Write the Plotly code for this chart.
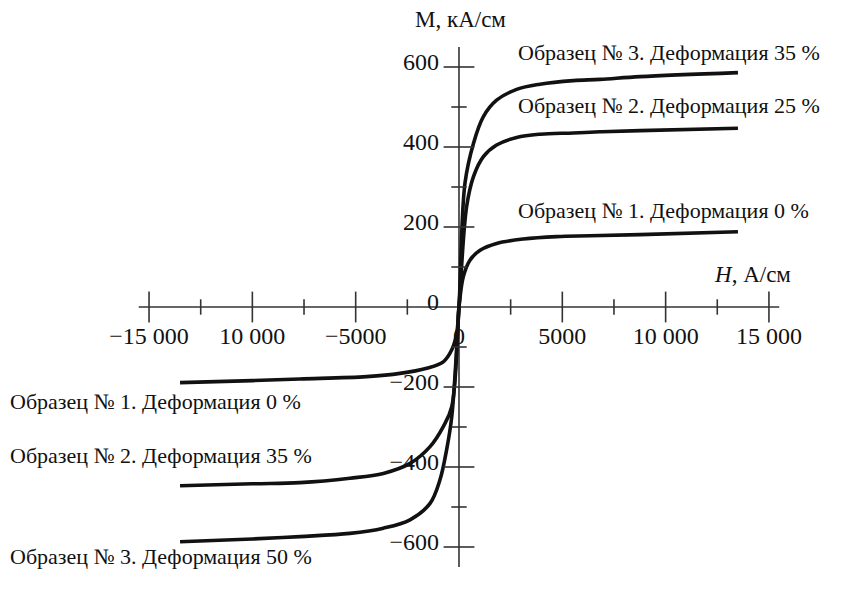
import plotly.graph_objects as go

# Magnetisation curves M(H), kA/cm vs A/cm
h1 = [-13500, -10000, -7700, -4470, -2860, -1560, -760, -350, -110, 0,
      210, 530, 1020, 1820, 3110, 4730, 6340, 8760, 13500]
m1 = [-189, -184, -180, -174, -166, -153, -137, -107, -66, 0,
      76, 117, 142, 159, 170, 176, 178, 181, 188]

h2 = [-13500, -10000, -7700, -5280, -3660, -2370, -1400, -760, -350, 0,
      370, 700, 1180, 1820, 2790, 3920, 5530, 6825, 8760, 13500]
m2 = [-447, -442, -439, -428, -416, -391, -349, -299, -249, 0,
      251, 326, 376, 405, 424, 432, 435, 438, 441, 447]

h3 = [-13500, -10000, -7700, -5280, -3660, -2370, -1400, -920, -600, -350, 0,
      290, 700, 1180, 1820, 2790, 3920, 5530, 6825, 8760, 13500]
m3 = [-587, -580, -574, -566, -553, -532, -491, -432, -357, -274, 0,
      310, 409, 476, 517, 544, 557, 566, 569, 576, 586]

# Axis ticks and labels
x_tick_vals = [-15000, -10000, -5000, 0, 5000, 10000, 15000]
x_tick_text = ["\u221215 000", "10 000", "\u22125000", "0", "5000", "10 000", "15 000"]
x_major = [-15000, -10000, -5000, 5000, 10000, 15000]
x_minor = [-12500, -7500, -2500, 2500, 7500, 12500]

y_tick_vals = [-600, -400, -200, 0, 200, 400, 600]
y_tick_text = ["\u2212600", "\u2212400", "\u2212200", "0", "200", "400", "600"]
y_major = [-600, -400, -200, 200, 400, 600]
y_minor = [-500, -300, -100, 100, 300, 500]

X_RANGE = [-22213, 19068]
Y_RANGE = [-717.5, 767.5]
X_AXIS_SPAN = [-15500, 15500]
Y_AXIS_SPAN = [-650, 650]

W, H = 853, 594
FONT = "Liberation Serif"
INK = "#111111"
AXIS = "#333333"

fig = go.Figure()

for hx, my in [(h1, m1), (h2, m2), (h3, m3)]:
    fig.add_trace(go.Scatter(
        x=hx, y=my, mode="lines",
        line=dict(color=INK, width=3.6, shape="spline", smoothing=1.0),
        hoverinfo="skip",
    ))

# Axis lines crossing at the origin
fig.add_shape(type="line", x0=X_AXIS_SPAN[0], x1=X_AXIS_SPAN[1], y0=0, y1=0,
              line=dict(color=AXIS, width=1.6), layer="below")
fig.add_shape(type="line", x0=0, x1=0, y0=Y_AXIS_SPAN[0], y1=Y_AXIS_SPAN[1],
              line=dict(color=AXIS, width=1.6), layer="below")

# Tick marks crossing the axes
def tick_marks(xs, ys, symbol, size):
    return go.Scatter(
        x=xs, y=ys, mode="markers", hoverinfo="skip",
        marker=dict(symbol=symbol, size=size, color=AXIS,
                    line=dict(color=AXIS, width=1.6)),
    )

fig.add_trace(tick_marks(x_major, [0] * len(x_major), "line-ns", 22))
fig.add_trace(tick_marks(x_minor, [0] * len(x_minor), "line-ns", 11))
fig.add_trace(tick_marks([0] * len(y_major), y_major, "line-ew", 22))
fig.add_trace(tick_marks([0] * len(y_minor), y_minor, "line-ew", 11))

x_pos = (0 - Y_RANGE[0]) / (Y_RANGE[1] - Y_RANGE[0])
y_pos = (0 - X_RANGE[0]) / (X_RANGE[1] - X_RANGE[0])

fig.update_layout(
    width=W, height=H,
    margin=dict(l=0, r=0, t=0, b=0),
    paper_bgcolor="white", plot_bgcolor="white",
    showlegend=False, hovermode=False,
    font=dict(family=FONT, color=INK),
    xaxis=dict(
        range=X_RANGE, anchor="free", position=x_pos,
        showgrid=False, zeroline=False, showline=False, ticks="",
        tickmode="array", tickvals=x_tick_vals, ticktext=x_tick_text,
        tickfont=dict(family=FONT, size=24, color=INK),
        ticklabelstandoff=12,
    ),
    yaxis=dict(
        range=Y_RANGE, anchor="free", position=y_pos,
        showgrid=False, zeroline=False, showline=False, ticks="",
        tickmode="array", tickvals=y_tick_vals, ticktext=y_tick_text,
        tickfont=dict(family=FONT, size=24, color=INK),
        ticklabelstandoff=20, ticklabelshift=-5,
    ),
)

def label(text, px, py, size=22):
    fig.add_annotation(
        text=text, xref="paper", yref="paper",
        x=px / W, y=1 - py / H, xanchor="left", yanchor="middle",
        showarrow=False, font=dict(family=FONT, size=size, color=INK),
    )

label("M, кА/см", 413, 19, size=23)
label("Образец № 3. Деформация 35 %", 516, 52)
label("Образец № 2. Деформация 25 %", 516, 106)
label("Образец № 1. Деформация 0 %", 516, 210)
label("<i>H</i>, А/см", 712, 274, size=23)
label("Образец № 1. Деформация 0 %", 8, 401)
label("Образец № 2. Деформация 35 %", 8, 455)
label("Образец № 3. Деформация 50 %", 8, 556)

fig.write_html("out.html")
